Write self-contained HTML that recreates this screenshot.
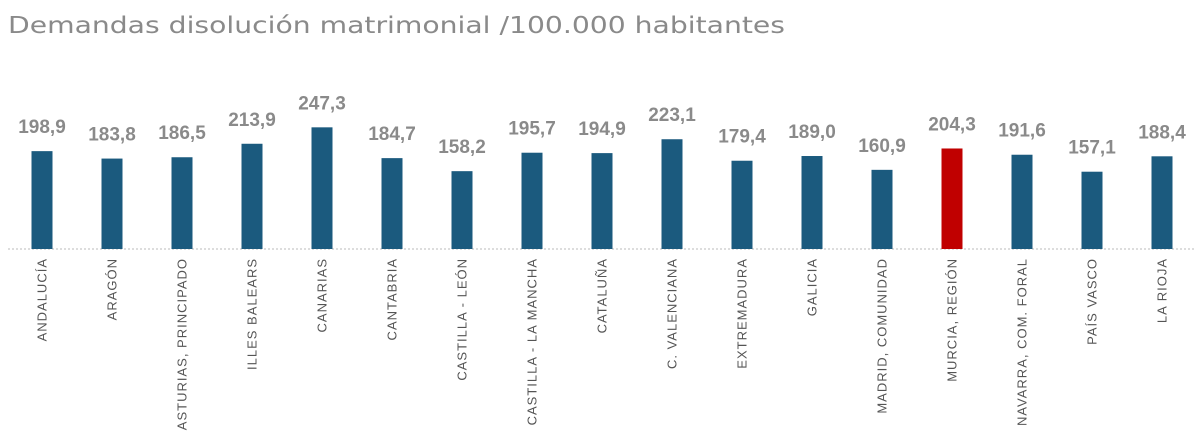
<!DOCTYPE html>
<html><head><meta charset="utf-8"><style>
body{margin:0;background:#fff;}
svg{display:block;}
</style></head><body>
<svg id="chart" width="1200" height="446" xmlns="http://www.w3.org/2000/svg">
<text x="8" y="33" font-family="DejaVu Sans, Liberation Sans, sans-serif" font-size="23" fill="#8a8a8a" textLength="777" lengthAdjust="spacingAndGlyphs">Demandas disolución matrimonial /100.000 habitantes</text>
<line x1="8" y1="249" x2="1195" y2="249" stroke="#bbb" stroke-width="1" stroke-dasharray="2,2"/>
<g id="bars"></g>
</svg>
<script>
const categories=["ANDALUCÍA","ARAGÓN","ASTURIAS, PRINCIPADO","ILLES BALEARS","CANARIAS","CANTABRIA","CASTILLA - LEÓN","CASTILLA - LA MANCHA","CATALUÑA","C. VALENCIANA","EXTREMADURA","GALICIA","MADRID, COMUNIDAD","MURCIA, REGIÓN","NAVARRA, COM. FORAL","PAÍS VASCO","LA RIOJA"];
const values=[198.9,183.8,186.5,213.9,247.3,184.7,158.2,195.7,194.9,223.1,179.4,189.0,160.9,204.3,191.6,157.1,188.4];
const labels=["198,9","183,8","186,5","213,9","247,3","184,7","158,2","195,7","194,9","223,1","179,4","189,0","160,9","204,3","191,6","157,1","188,4"];
const highlight=["MURCIA, REGIÓN"];
const NS="http://www.w3.org/2000/svg";
const g=document.getElementById('bars');
const base=249, k=0.492;
function xc(i){return 42+i*70;}
function yv(v){return base-v*k;}
categories.forEach((c,i)=>{
  const r=document.createElementNS(NS,'rect');
  
  
  r.setAttribute('x',xc(i)-10.5);r.setAttribute('width',21);
  r.setAttribute('y',yv(values[i]));r.setAttribute('height',base-yv(values[i]));
  r.setAttribute('fill',highlight.includes(c)?'#c00000':'#1b5a7e');
  g.appendChild(r);
  const t=document.createElementNS(NS,'text');
  
  
  t.setAttribute('x',xc(i));t.setAttribute('y',yv(values[i])-18);
  t.setAttribute('text-anchor','middle');t.setAttribute('font-family','Liberation Sans, sans-serif');
  t.setAttribute('font-size','19');t.setAttribute('font-weight','bold');t.setAttribute('fill','#8a8a8a');
  t.textContent=labels[i];g.appendChild(t);
  const l=document.createElementNS(NS,'text');
  
  
  l.setAttribute('transform','translate('+(xc(i)+4.5)+',258) rotate(-90)');
  l.setAttribute('text-anchor','end');l.setAttribute('font-family','Liberation Sans, sans-serif');
  l.setAttribute('font-size','13');l.setAttribute('letter-spacing','1');l.setAttribute('fill','#555');
  l.textContent=c;g.appendChild(l);
});
</script>
</body></html>
